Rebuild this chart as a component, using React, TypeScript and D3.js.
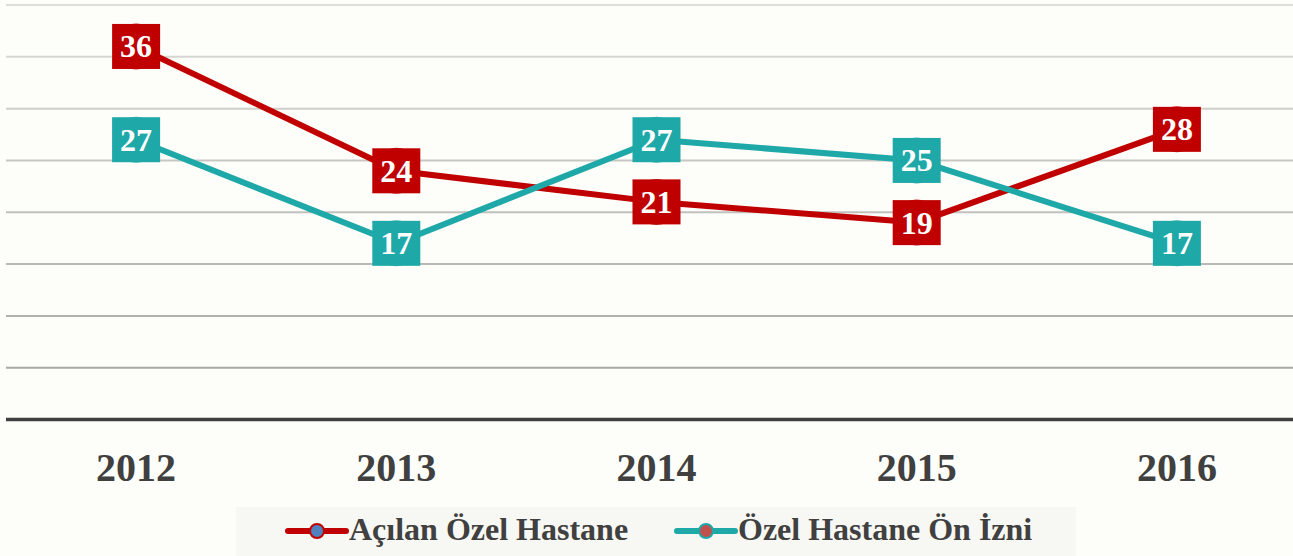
import React from 'react'
import * as d3 from 'd3'

const years = ['2012', '2013', '2014', '2015', '2016']
const acilan = [36, 24, 21, 19, 28]
const onIzin = [27, 17, 27, 25, 17]
const yTicks = [5, 10, 15, 20, 25, 30, 35, 40]

const seriesList = [
  { name: 'Açılan Özel Hastane', values: acilan, color: '#c00000', dot: '#4f81bd' },
  { name: 'Özel Hastane Ön İzni', values: onIzin, color: '#1fa8a8', dot: '#c0504d' },
]

const W = 1293
const H = 556
const FONT = '"Liberation Serif", "Times New Roman", serif'

export default function App() {
  const x = d3.scaleBand().domain(years).range([6, 1307])
  const y = d3.scaleLinear().domain([0, 40]).range([419.5, 5])
  const gridColor = d3.scaleLinear<string>().domain([40, 5]).range(['#deded9', '#a9a9a7'])
  const cx = (d: string) => (x(d) as number) + x.bandwidth() / 2

  const line = d3.line<number>()
    .x((_, i) => cx(years[i]))
    .y((v) => y(v))

  return (
    <div style={{ position: 'absolute', left: 0, top: 0 }}>
      <svg width={W} height={H} style={{ display: 'block' }}>
        <rect width={W} height={H} fill="#fdfdf9" />
        {yTicks.map((t) => (
          <line key={t} x1={6} x2={W} y1={y(t)} y2={y(t)} stroke={gridColor(t)} strokeWidth={2} />
        ))}
        <line x1={6} x2={W} y1={y(0)} y2={y(0)} stroke="#404040" strokeWidth={3.5} />

        {years.map((yr) => (
          <text key={yr} x={cx(yr)} y={481} textAnchor="middle" fontFamily={FONT}
            fontWeight="bold" fontSize={40} fill="#404040">{yr}</text>
        ))}

        {seriesList.map((s) => (
          <path key={s.name} d={line(s.values) || ''} fill="none" stroke={s.color}
            strokeWidth={6} strokeLinejoin="round" />
        ))}

        {seriesList.map((s) => (
          <g key={s.name + '-labels'}>
            {s.values.map((v, i) => {
              const px = cx(years[i])
              const py = y(v)
              return (
                <g key={i}>
                  <circle cx={px} cy={py} r={23} fill={s.color} opacity={0.85} />
                  <rect x={px - 24} y={py - 22.5} width={48} height={45} fill={s.color} />
                  <text x={px} y={py + 11} textAnchor="middle" fontFamily={FONT}
                    fontWeight="bold" fontSize={32} fill="#ffffff">{v}</text>
                </g>
              )
            })}
          </g>
        ))}

        <rect x={236} y={507} width={840} height={49} fill="#f7f7f3" />
        {seriesList.map((s, i) => {
          const lx = i === 0 ? 288 : 677
          return (
            <g key={s.name + '-legend'}>
              <line x1={lx} x2={lx + 58} y1={531} y2={531} stroke={s.color} strokeWidth={6} strokeLinecap="round" />
              <circle cx={lx + 29} cy={531} r={7} fill={s.dot} stroke={s.color} strokeWidth={2} />
              <text x={lx + 61} y={540} fontFamily={FONT} fontWeight="bold" fontSize={32}
                fill="#404040">{s.name}</text>
            </g>
          )
        })}
      </svg>
    </div>
  )
}
